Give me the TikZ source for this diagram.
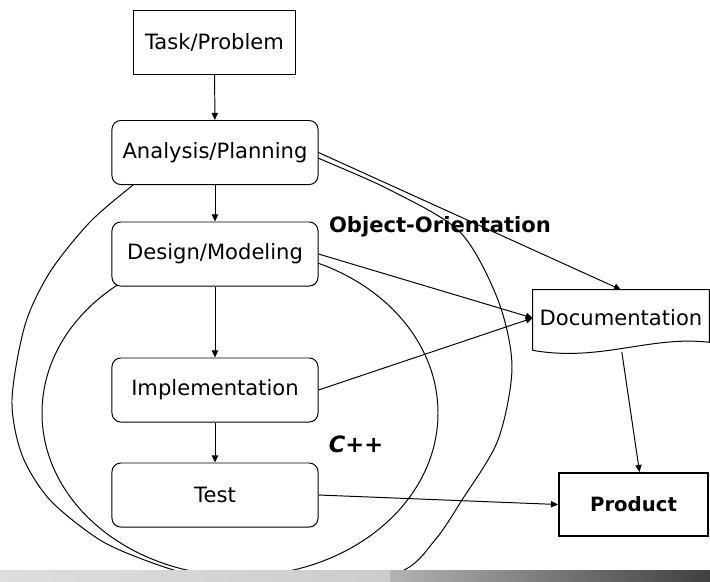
\documentclass[tikz,border=0pt]{standalone}
\usepackage{fontspec}
\setmainfont{DejaVu Sans}
\usetikzlibrary{calc,arrows.meta}

\tikzset{
  box/.style={draw, line width=0.7pt, fill=white, inner sep=0pt,
    minimum width=5.15cm, minimum height=1.6cm,
    font=\fontsize{15}{18}\selectfont},
  roundbox/.style={box, rounded corners=0.22cm},
  arr/.style={-{Triangle[length=5pt,width=4.5pt]}, line width=0.7pt},
  curve/.style={line width=0.7pt},
}

\begin{document}
\begin{tikzpicture}[x=0.025cm,y=-0.025cm]
		%%%%% START %%%%%
		\useasboundingbox (0,0) rectangle (710,581);
		
		% the two regions
		\draw[curve] plot[smooth] coordinates {(290,146) (318,158) (390,190) (460,232) (498,300) (512,367) (498,440) (462,500) (435,540) (400,572) (300,597) (200,577) (150,562) (100,540) (50,500) (22,455) (12,400) (25,325) (50,272) (90,222) (133,185) (150,172)};
		\draw[curve] (240,413) ellipse [x radius=198, y radius=163];
		
		% steps
		\node[box, minimum width=4.025cm] (task) at (214.5,42) {Task/Problem};
		\node[roundbox] (ana) at (215,152.5) {Analysis/Planning};
		\node[roundbox] (des) at (215,254) {Design/Modeling};
		\node[roundbox] (impl) at (215,390) {Implementation};
		\node[roundbox] (test) at (215,495) {Test};
		
		\node[font=\fontsize{15}{18}\selectfont, minimum width=4.4cm, minimum height=1.4cm, inner sep=0pt] (doc) at (621,318) {Documentation};
		\draw[curve] ($(doc.south west)+(0,4)$) -- (doc.north west) -- (doc.north east) -- ($(doc.south east)+(0,-4)$) .. controls +(-59,-7) and +(67,12) .. ($(doc.south west)+(0,4)$);
		
		\node[box, line width=1.4pt, minimum width=3.725cm, minimum height=1.575cm, font=\fontsize{14}{17}\selectfont\bfseries] (prod) at (633.5,504.5) {Product};
		
		\node[font=\fontsize{15}{18}\selectfont\bfseries] (oo) at (440,227) {Object-Orientation};
		\node[font=\fontsize{16}{19}\selectfont\bfseries\itshape] (cpp) at (356,444) {C++};
		
		% flow
		\draw[arr] (task) -- (ana);
		\draw[arr] (ana) -- (des);
		\draw[arr] (des) -- (impl);
		\draw[arr] (impl) -- (test);
		\draw[arr] (ana.east) -- (doc.north);
		\draw[arr] (des.east) -- (doc.west);
		\draw[arr] (impl.east) -- (doc.west);
		\draw[arr] (test.east) -- (prod.west);
		\draw[arr, shorten <=4pt] (doc.south) -- ([xshift=0.15cm]prod.north);
		
		% footer bar
		\shade[left color=black!13, right color=black!20] (0,570) rectangle (390,581);
		\shade[left color=black!30, right color=black!75] (390,570) rectangle (710,581);
		
		%%%%% END %%%%%
	\end{tikzpicture}
\end{document}
